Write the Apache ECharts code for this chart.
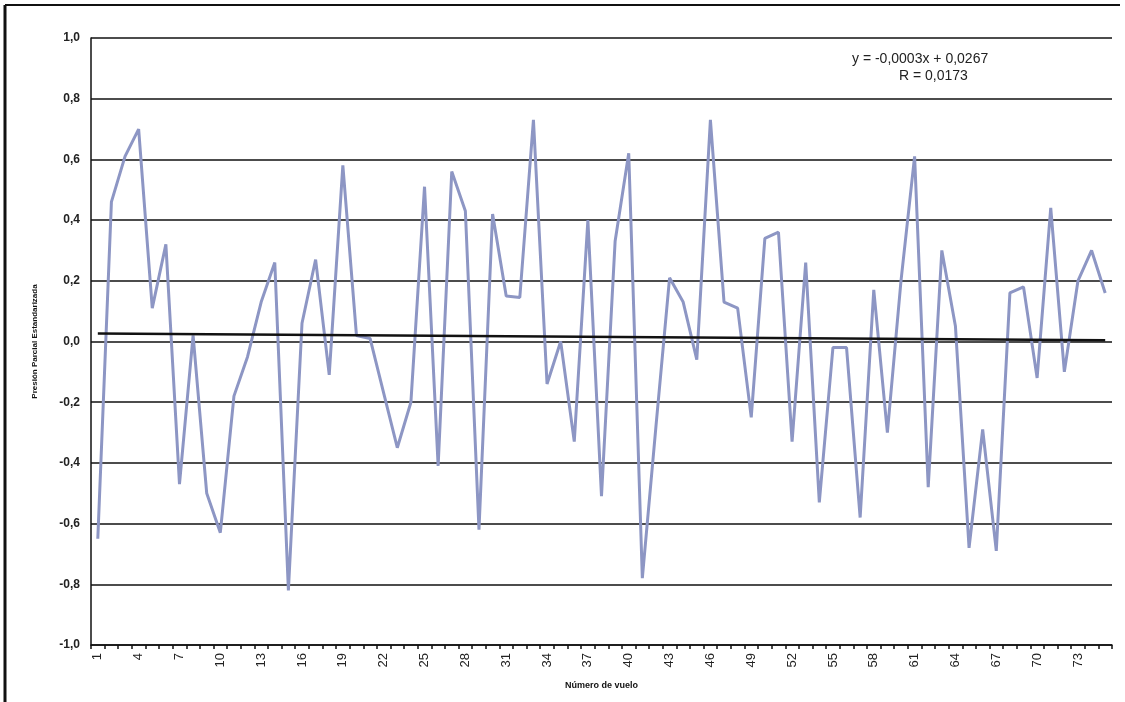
<!DOCTYPE html>
<html>
<head>
<meta charset="utf-8">
<script src="https://cdn.jsdelivr.net/npm/echarts@6/dist/echarts.min.js"></script>
<style>
html,body{margin:0;padding:0;background:#fff;}
#chart{width:1125px;height:702px;}
</style>
</head>
<body>
<div id="chart"></div>
<script>
const categories = ['1','2','3','4','5','6','7','8','9','10','11','12','13','14','15','16','17','18','19','20',
  '21','22','23','24','25','26','27','28','29','30','31','32','33','34','35','36','37','38','39','40',
  '41','42','43','44','45','46','47','48','49','50','51','52','53','54','55','56','57','58','59','60',
  '61','62','63','64','65','66','67','68','69','70','71','72','73','74','75'];
const presion = [-0.65,0.46,0.61,0.70,0.11,0.32,-0.47,0.02,-0.50,-0.63,
  -0.18,-0.05,0.13,0.26,-0.82,0.06,0.27,-0.11,0.58,0.02,
  0.01,-0.17,-0.35,-0.20,0.51,-0.41,0.56,0.43,-0.62,0.42,
  0.15,0.145,0.73,-0.14,0.00,-0.33,0.40,-0.51,0.33,0.62,
  -0.78,-0.28,0.21,0.13,-0.06,0.73,0.13,0.11,-0.25,0.34,
  0.36,-0.33,0.26,-0.53,-0.02,-0.02,-0.58,0.17,-0.30,0.20,
  0.61,-0.48,0.30,0.05,-0.68,-0.29,-0.69,0.16,0.18,-0.12,
  0.44,-0.10,0.20,0.30,0.16];
const trendEnds = [0.0264, 0.0042];
const equationText = ['y = -0,0003x + 0,0267', 'R = 0,0173'];
const yAxisTitle = 'Presión Parcial Estandarizada';
const xAxisTitle = 'Número de vuelo';

const trendData = categories.map((c, i) => i === 0 ? trendEnds[0] : (i === categories.length - 1 ? trendEnds[1] : null));

const chart = echarts.init(document.getElementById('chart'), null, {renderer: 'canvas'});
const fmt = v => v.toFixed(1).replace('.', ',');
chart.setOption({
  animation: false,
  backgroundColor: '#ffffff',
  grid: {left: 91, right: 13, top: 38, bottom: 57, containLabel: false},
  xAxis: {
    type: 'category',
    data: categories,
    boundaryGap: true,
    name: xAxisTitle,
    nameLocation: 'middle',
    nameGap: 36,
    nameTextStyle: {fontFamily: 'Arial, Liberation Sans', fontWeight: 'bold', fontSize: 9, color: '#111'},
    axisLine: {onZero: false, lineStyle: {color: '#111', width: 1.5}},
    axisTick: {show: true, interval: 0, length: 4, lineStyle: {color: '#111', width: 1.5}},
    axisLabel: {interval: 2, rotate: 90, fontFamily: 'Arial, Liberation Sans', fontSize: 13, color: '#222', margin: 8},
    splitLine: {show: false}
  },
  yAxis: {
    type: 'value',
    min: -1, max: 1, interval: 0.2,
    name: yAxisTitle,
    nameLocation: 'middle',
    nameRotate: 90,
    nameGap: 52,
    nameTextStyle: {fontFamily: 'Arial, Liberation Sans', fontWeight: 'bold', fontSize: 8, color: '#111'},
    axisLine: {show: true, lineStyle: {color: '#111', width: 1.5}},
    axisTick: {show: false},
    axisLabel: {formatter: fmt, fontFamily: 'Arial, Liberation Sans', fontWeight: 'bold', fontSize: 12, color: '#222', margin: 11},
    splitLine: {show: true, lineStyle: {color: '#111', width: 1.5}}
  },
  series: [
    {
      type: 'line',
      data: presion,
      symbol: 'none',
      lineStyle: {color: '#8d96c4', width: 3},
      z: 3
    },
    {
      type: 'line',
      data: trendData,
      connectNulls: true,
      symbol: 'none',
      lineStyle: {color: '#111', width: 2.5},
      z: 4
    }
  ],
  graphic: [
    {type: 'line', shape: {x1: 5, y1: 5, x2: 1120, y2: 5}, style: {stroke: '#111', lineWidth: 2}},
    {type: 'line', shape: {x1: 5, y1: 5, x2: 5, y2: 702}, style: {stroke: '#111', lineWidth: 3}},
    {type: 'text', left: 852, top: 52, style: {text: equationText[0], font: '14px Arial, Liberation Sans', fill: '#222'}},
    {type: 'text', left: 899, top: 69, style: {text: equationText[1], font: '14px Arial, Liberation Sans', fill: '#222'}}
  ]
});
</script>
</body>
</html>
